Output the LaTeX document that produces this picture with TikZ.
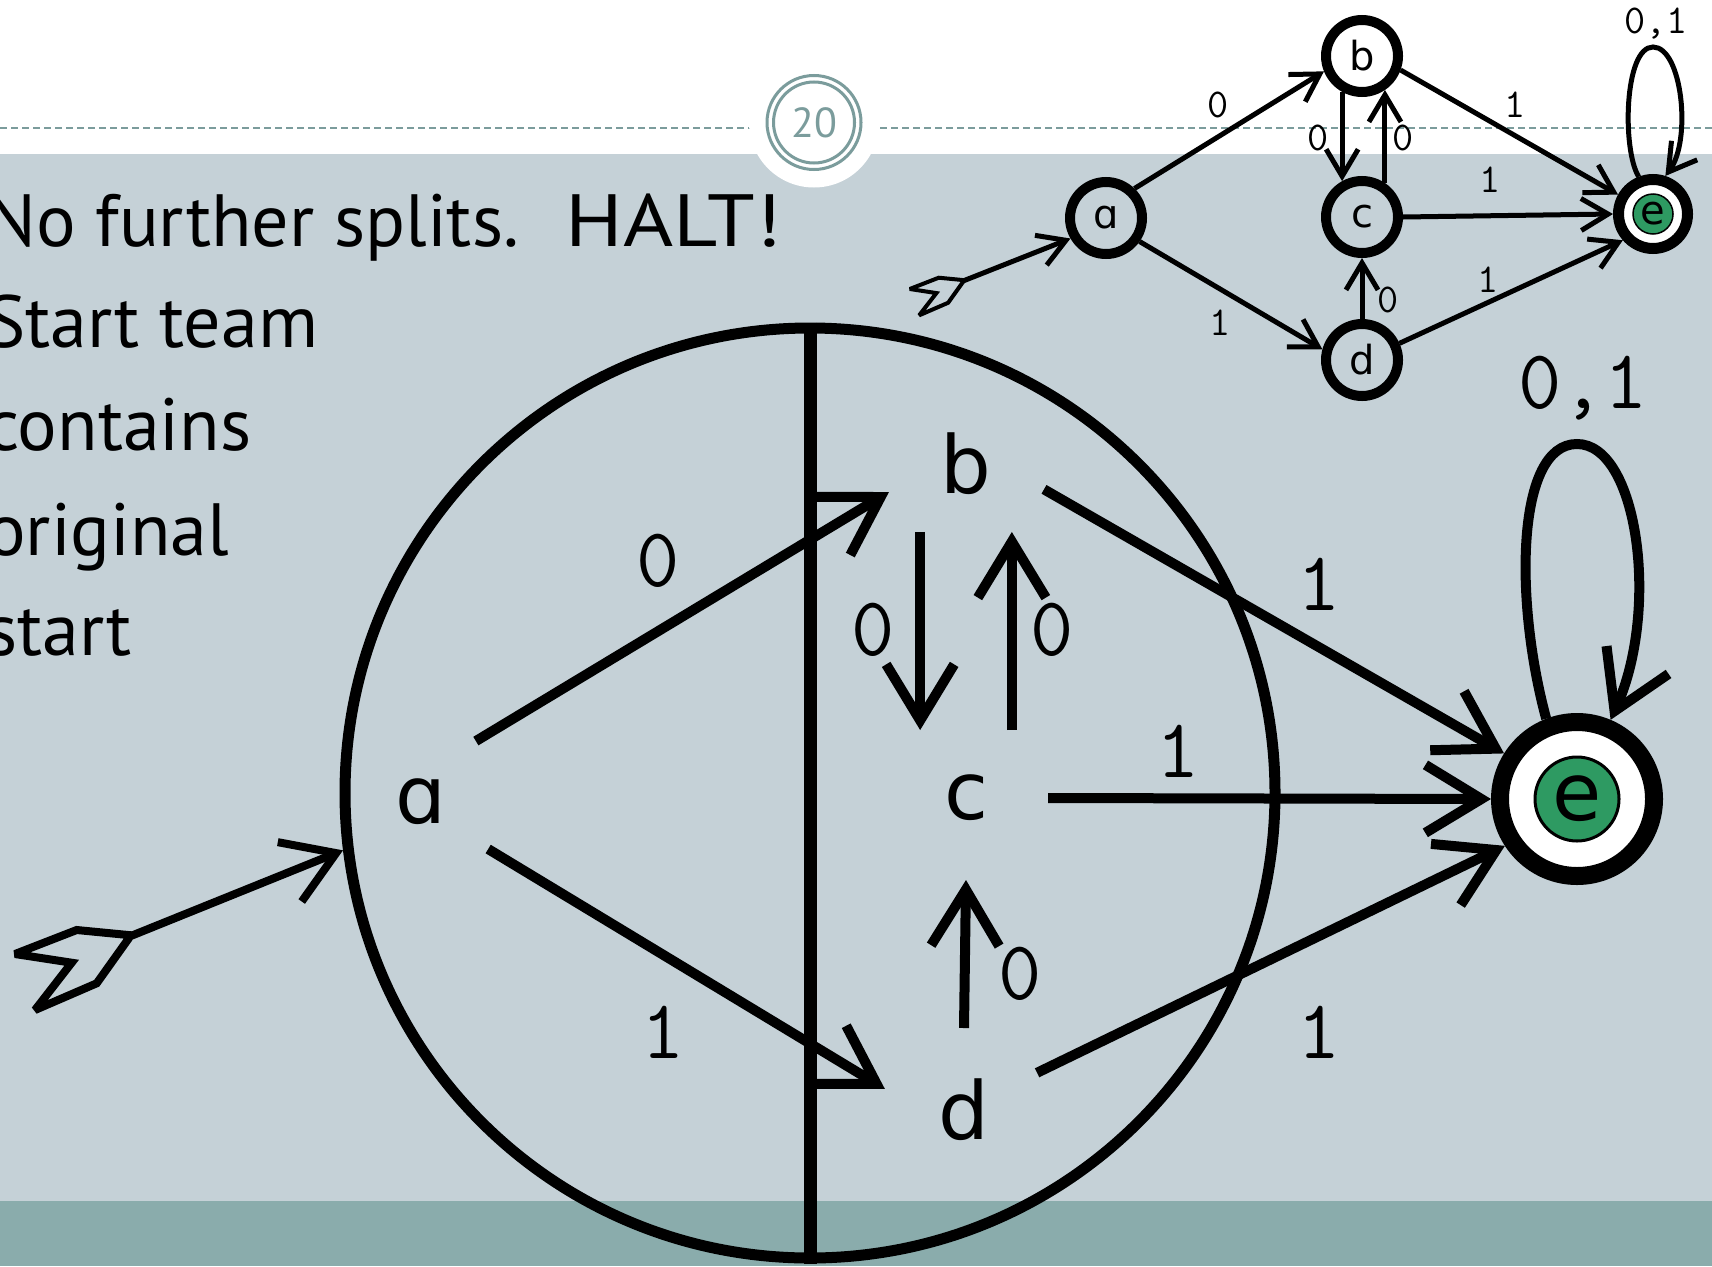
\documentclass[tikz,border=0pt]{standalone}
\usepackage{fontspec}
\usepackage{graphicx}
\setmainfont{PT Sans}
\newfontfamily\monofont{Latin Modern Mono}
\newfontfamily\letterfont{DejaVu Sans}
\usetikzlibrary{arrows.meta}

\definecolor{slidegrey}{HTML}{C5D1D7}
\definecolor{slideband}{HTML}{8AACAC}
\definecolor{slideaccent}{HTML}{7B9C9C}
\definecolor{acceptgreen}{HTML}{2E9A62}

\tikzset{
  fletching/.pic={
    \draw[miter limit=3] (0,-2) -- (-51.6,-7) -- (-113.3,17) -- (-56.6,25.7)
      -- (-93.3,73) -- (-31.6,46.3) -- (0,2) -- cycle;
  }
}

\begin{document}
\begin{tikzpicture}[x=1pt,y=-1pt,
  bigedge/.style={line width=10pt, -{Straight Barb[length=56pt,width=68pt]}},
  smalledge/.style={line width=5pt, -{Straight Barb[length=27pt,width=32pt]}},
  bigstate/.style={circle, minimum size=164pt, inner sep=0pt, outer sep=0pt,
    font=\letterfont\fontsize{80}{80}\selectfont},
  smallstate/.style={circle, draw, line width=10pt, minimum size=72pt, inner sep=0pt,
    font=\letterfont\fontsize{40}{40}\selectfont},
  biglabel/.style={inner sep=0pt, font=\monofont\fontsize{84}{84}\selectfont},
  smalllabel/.style={inner sep=0pt, font=\monofont\fontsize{41}{41}\selectfont},
  bodytext/.style={anchor=base west, inner sep=0pt, font=\fontsize{74}{74}\selectfont},
]
\useasboundingbox (0,0) rectangle (1712,1266);

% slide background
\fill[white] (0,0) rectangle (1712,1266);
\fill[slidegrey] (0,154) rectangle (1712,1201);
\fill[slideband] (0,1201) rectangle (1712,1266);
\draw[slideaccent, line width=2pt, dash pattern=on 7pt off 4pt] (0,128) -- (1712,128);

% page number badge
\fill[white] (814,122.5) circle (65pt);
\node[circle, draw=slideaccent, line width=3pt, minimum size=94pt, inner sep=0pt,
      text=slideaccent, font=\fontsize{42}{42}\selectfont] (pagenum) at (814,122.5) {20};
\draw[slideaccent, line width=3pt] (pagenum.center) circle (40.5pt);

% bullet text
\node[bodytext] (line1) at (-14,246) {No further splits.\ \ \hspace{7pt}\scalebox{1.16}[1]{HALT!}};
\node[bodytext] (line2) at (-14,347) {Start team};
\node[bodytext] (line3) at (-14,450) {contains};
\node[bodytext] (line4) at (-14,555) {original};
\node[bodytext] (line5) at (-14,655) {start};

% start team and the split line
\node[circle, draw, line width=11pt, minimum size=930pt, inner sep=0pt] (team) at (810,793) {};
\draw[line width=13pt] (team.north) -- (team.south);

% large automaton
\node[bigstate] (A) at (421,802) {ɑ};
\node[bigstate] (B) at (966,464) {b};
\node[bigstate] (C) at (966,798) {c};
\node[bigstate] (D) at (964,1110) {d};
\node[circle, draw, fill=white, line width=18pt, minimum size=154pt, inner sep=0pt] (E) at (1577,799) {};
\node[circle, draw, fill=acceptgreen, line width=3pt, minimum size=84pt, inner sep=0pt,
      font=\letterfont\fontsize{80}{80}\selectfont] (Ein) at (E) {e};

\coordinate (bigtail) at (128.3,937);
\draw[line width=8pt, -{Straight Barb[length=50pt,width=64pt]}] (bigtail) -- (team.187);
\pic[line width=8pt] at (bigtail) {fletching};

\draw[bigedge] (A.48) -- (B.200);
\draw[bigedge] (A.-35) -- (D.165);
\draw[bigedge] (B.-124) -- (C.124);
\draw[bigedge] (C.56) -- (B.-56);
\draw[bigedge] (D.90) -- (C.-90);
\draw[bigedge] (B.-18) -- (E.148);
\draw[bigedge] (C.0) -- (E.180);
\draw[bigedge] (D.27) -- (E.213);
\draw[bigedge] (E.111) .. controls (1514,600) and (1516,444) .. (1577,444)
  .. controls (1638,444) and (1660,610) .. (E.67);

\node[biglabel] (Lab) at (658,561) {0};
\node[biglabel] (Lad) at (663,1032) {1};
\node[biglabel] (Lbc) at (873,630) {0};
\node[biglabel] (Lcb) at (1052,630) {0};
\node[biglabel] (Ldc) at (1020,974) {0};
\node[biglabel] (Lce) at (1178,751) {1};
\node[biglabel] (Lbe) at (1319,584) {1};
\node[biglabel] (Lde) at (1319,1032) {1};
\node[biglabel, anchor=base] (Lee) at (1583,408) {0,1};

% small automaton
\node[smallstate] (sa) at (1106,218) {ɑ};
\node[smallstate] (sb) at (1362,56) {b};
\node[smallstate] (sc) at (1362,217) {c};
\node[smallstate] (sd) at (1362,360) {d};
\node[circle, draw, fill=white, line width=11pt, minimum size=69pt, inner sep=0pt] (se) at (1653,214) {};
\node[circle, draw, fill=acceptgreen, line width=1.5pt, minimum size=40pt, inner sep=0pt,
      font=\letterfont\fontsize{40}{40}\selectfont] (sein) at (se) {e};

\coordinate (smalltail) at (963,281);
\draw[smalledge] (smalltail) -- (sa.210);
\pic[scale=0.47, line width=4pt] at (smalltail) {fletching};

\draw[smalledge] (sa.46) -- (sb.202);
\draw[smalledge] (sa.-35) -- (sd.165);
\draw[smalledge] (sb.-119) -- (sc.119);
\draw[smalledge] (sc.56) -- (sb.-56);
\draw[smalledge] (sd.90) -- (sc.-90);
\draw[smalledge] (sb.-20) -- (se.151);
\draw[smalledge] (sc.0) -- (se.180);
\draw[smalledge] (sd.24) -- (se.221);
\draw[smalledge] (se.111) .. controls (1622,150) and (1624,47) .. (1653,47)
  .. controls (1682,47) and (1692,140) .. (se.72);

\node[smalllabel] (lab) at (1218,105) {0};
\node[smalllabel] (lad) at (1220,323) {1};
\node[smalllabel] (lbc) at (1318,138) {0};
\node[smalllabel] (lcb) at (1403,138) {0};
\node[smalllabel] (ldc) at (1388,300) {0};
\node[smalllabel] (lbe) at (1515,105) {1};
\node[smalllabel] (lce) at (1490,180) {1};
\node[smalllabel] (lde) at (1488,280) {1};
\node[smalllabel, anchor=base] (lee) at (1656,33) {0,1};
\end{tikzpicture}
\end{document}
